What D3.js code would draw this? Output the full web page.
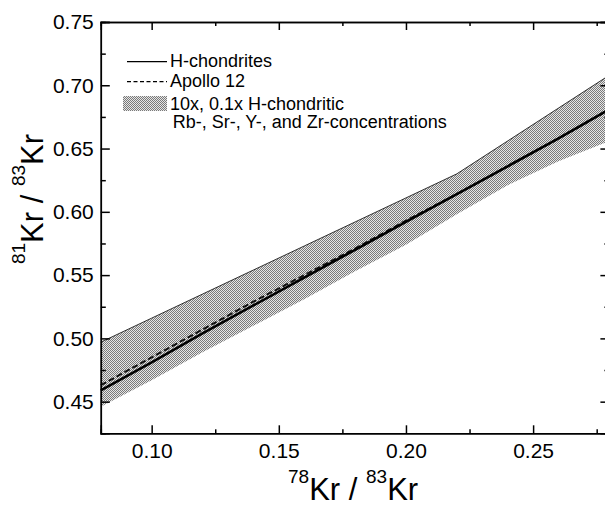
<!DOCTYPE html>
<html>
<head>
<meta charset="utf-8">
<script src="https://cdn.jsdelivr.net/npm/d3@7/dist/d3.min.js"></script>
<style>
  body { margin: 0; background: #fff; }
  svg { font-family: "Liberation Sans", Arial, sans-serif; }
</style>
</head>
<body>
<div id="chart"></div>
<script>
// values
var ratio78 = [0.08, 0.10, 0.12, 0.14, 0.16, 0.18, 0.20, 0.22, 0.24, 0.26, 0.28];
var hChondrites = [0.459, 0.481, 0.504, 0.526, 0.548, 0.570, 0.592, 0.614, 0.636, 0.658, 0.681];
var apollo12 = [0.463, 0.485, 0.507, 0.529, 0.550, 0.571, 0.593, 0.614, 0.636, 0.658, 0.681];
var bandLow = [0.446, 0.467, 0.489, 0.510, 0.531, 0.553, 0.574, 0.598, 0.621, 0.640, 0.656];
var bandHigh = [0.497, 0.516, 0.535, 0.554, 0.573, 0.592, 0.611, 0.630, 0.656, 0.682, 0.708];

var xMajor = [0.10, 0.15, 0.20, 0.25];
var xMinor = [0.125, 0.175, 0.225, 0.275];
var yMajor = [0.45, 0.50, 0.55, 0.60, 0.65, 0.70, 0.75];
var yMinor = [0.475, 0.525, 0.575, 0.625, 0.675, 0.725];

var svgWidth = 605, svgHeight = 506;
var plotLeft = 100.8, plotRight = 609.4, plotTop = 22, plotBottom = 433.3;

var svg = d3.select("#chart")
  .append("svg")
  .attr("width", svgWidth)
  .attr("height", svgHeight);

// stipple fill for the band (checker of dark dots)
var pat = svg.append("defs").append("pattern")
  .attr("id", "dots")
  .attr("x", 0).attr("y", 0)
  .attr("width", 2).attr("height", 2)
  .attr("patternUnits", "userSpaceOnUse");
pat.append("rect").attr("width", 2).attr("height", 2).attr("fill", "#e6e6e6")
  .attr("shape-rendering", "crispEdges");
pat.append("rect").attr("x", 0).attr("y", 0).attr("width", 1).attr("height", 1).attr("fill", "#7a7a7a")
  .attr("shape-rendering", "crispEdges");
pat.append("rect").attr("x", 1).attr("y", 1).attr("width", 1).attr("height", 1).attr("fill", "#7a7a7a")
  .attr("shape-rendering", "crispEdges");

var x = d3.scaleLinear().domain([0.08, 0.28]).range([plotLeft, plotRight]);
var y = d3.scaleLinear().domain([0.425, 0.75]).range([plotBottom, plotTop]);

// band
var area = d3.area()
  .x(function (d, i) { return x(ratio78[i]); })
  .y0(function (d, i) { return y(bandLow[i]); })
  .y1(function (d, i) { return y(bandHigh[i]); });
svg.append("path")
  .datum(ratio78)
  .attr("d", area)
  .attr("fill", "url(#dots)");

var line = d3.line()
  .x(function (d, i) { return x(ratio78[i]); })
  .y(function (d) { return y(d); });

svg.append("path")
  .datum(bandHigh)
  .attr("d", line)
  .attr("fill", "none")
  .attr("stroke", "#333")
  .attr("stroke-width", 1);

svg.append("path")
  .datum(apollo12)
  .attr("d", line)
  .attr("fill", "none")
  .attr("stroke", "#111")
  .attr("stroke-width", 2)
  .attr("stroke-dasharray", "6,3");

svg.append("path")
  .datum(hChondrites)
  .attr("d", line)
  .attr("fill", "none")
  .attr("stroke", "#000")
  .attr("stroke-width", 2.6);

// axes, all ticks point inward
function styleAxis(g) {
  g.select(".domain").attr("stroke", "#000").attr("stroke-width", 1.5);
  g.selectAll(".tick line").attr("stroke", "#000").attr("stroke-width", 1.5);
  g.selectAll("text").attr("font-size", 21).attr("fill", "#000")
    .attr("font-family", "'Liberation Sans', Arial, sans-serif");
}

svg.append("g")
  .attr("transform", "translate(0," + plotBottom + ")")
  .call(d3.axisBottom(x).tickValues(xMajor).tickSize(-8).tickPadding(10).tickFormat(d3.format(".2f")))
  .call(styleAxis);
svg.append("g")
  .attr("transform", "translate(0," + plotBottom + ")")
  .call(d3.axisBottom(x).tickValues(xMinor).tickSize(-4).tickFormat(""))
  .call(styleAxis);
svg.append("g")
  .attr("transform", "translate(0," + plotTop + ")")
  .call(d3.axisTop(x).tickValues(xMajor).tickSize(-8).tickFormat(""))
  .call(styleAxis);
svg.append("g")
  .attr("transform", "translate(0," + plotTop + ")")
  .call(d3.axisTop(x).tickValues(xMinor).tickSize(-4).tickFormat(""))
  .call(styleAxis);

svg.append("g")
  .attr("transform", "translate(" + plotLeft + ",0)")
  .call(d3.axisLeft(y).tickValues(yMajor).tickSize(-9).tickPadding(7).tickFormat(d3.format(".2f")))
  .call(styleAxis);
svg.append("g")
  .attr("transform", "translate(" + plotLeft + ",0)")
  .call(d3.axisLeft(y).tickValues(yMinor).tickSize(-5).tickFormat(""))
  .call(styleAxis);
svg.append("g")
  .attr("transform", "translate(" + plotRight + ",0)")
  .call(d3.axisRight(y).tickValues(yMajor).tickSize(-9).tickFormat(""))
  .call(styleAxis);
svg.append("g")
  .attr("transform", "translate(" + plotRight + ",0)")
  .call(d3.axisRight(y).tickValues(yMinor).tickSize(-5).tickFormat(""))
  .call(styleAxis);

// axis titles
var xt = svg.append("text")
  .attr("x", (plotLeft + plotRight) / 2 - 2)
  .attr("y", 500)
  .attr("text-anchor", "middle")
  .attr("font-size", 31);
xt.append("tspan").attr("font-size", 19).attr("dy", -17).text("78");
xt.append("tspan").attr("dy", 17).text("Kr / ");
xt.append("tspan").attr("font-size", 19).attr("dy", -17).text("83");
xt.append("tspan").attr("dy", 17).text("Kr");

var yt = svg.append("text")
  .attr("transform", "translate(43,199) rotate(-90)")
  .attr("text-anchor", "middle")
  .attr("font-size", 31);
yt.append("tspan").attr("font-size", 19).attr("dy", -18).text("81");
yt.append("tspan").attr("dy", 18).text("Kr / ");
yt.append("tspan").attr("font-size", 19).attr("dy", -18).text("83");
yt.append("tspan").attr("dy", 18).text("Kr");

// legend
var lg = svg.append("g").attr("font-size", 18);
lg.append("line").attr("x1", 127).attr("x2", 167).attr("y1", 61.7).attr("y2", 61.7)
  .attr("stroke", "#000").attr("stroke-width", 1.2);
lg.append("text").attr("x", 170).attr("y", 67).text("H-chondrites");
lg.append("line").attr("x1", 127).attr("x2", 167).attr("y1", 81.7).attr("y2", 81.7)
  .attr("stroke", "#000").attr("stroke-width", 1.2).attr("stroke-dasharray", "4,2.5");
lg.append("text").attr("x", 170).attr("y", 87).text("Apollo 12");
lg.append("rect").attr("x", 123).attr("y", 96).attr("width", 44).attr("height", 15)
  .attr("fill", "url(#dots)");
lg.append("text").attr("x", 170).attr("y", 110).text("10x, 0.1x H-chondritic");
lg.append("text").attr("x", 172.7).attr("y", 128.3).text("Rb-, Sr-, Y-, and Zr-concentrations");
</script>
</body>
</html>
